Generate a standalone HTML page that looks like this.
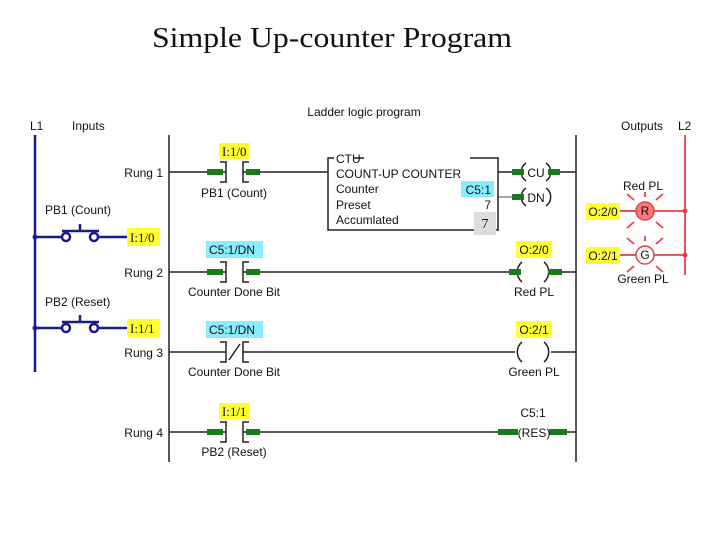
<!DOCTYPE html><html><head><style>body{margin:0;background:#fff}svg{display:block}text{font-family:"Liberation Sans",sans-serif;font-size:12px;fill:#111}</style></head><body>
<svg width="720" height="540" viewBox="0 0 720 540">
<text x="152" y="47" textLength="360" lengthAdjust="spacingAndGlyphs" style="font-family:'Liberation Serif',serif;font-size:29px">Simple Up-counter Program</text>
<text x="364" y="116" text-anchor="middle">Ladder logic program</text>
<text x="30" y="130">L1</text><text x="72" y="130">Inputs</text>
<text x="621" y="130">Outputs</text><text x="678" y="130">L2</text>
<g stroke="#1a1a8c" stroke-width="2.5" fill="none">
<line x1="35" y1="135" x2="35" y2="372"/>
<line x1="35" y1="237" x2="61" y2="237"/><line x1="99" y1="237" x2="127" y2="237"/>
<circle cx="66" cy="237" r="4" fill="#fff"/><circle cx="94" cy="237" r="4" fill="#fff"/>
<line x1="62" y1="231" x2="99" y2="231"/><line x1="80" y1="231" x2="80" y2="224"/>
<line x1="35" y1="328" x2="61" y2="328"/><line x1="99" y1="328" x2="127" y2="328"/>
<circle cx="66" cy="328" r="4" fill="#fff"/><circle cx="94" cy="328" r="4" fill="#fff"/>
<line x1="62" y1="322" x2="99" y2="322"/><line x1="80" y1="322" x2="80" y2="315"/>
</g>
<circle cx="35" cy="237" r="2.5" fill="#1a1a8c"/><circle cx="35" cy="328" r="2.5" fill="#1a1a8c"/>
<text x="45" y="214">PB1 (Count)</text><text x="45" y="306">PB2 (Reset)</text>
<rect x="127" y="228" width="33" height="18" fill="#ffff33"/><text x="130" y="242" style="font-family:'Liberation Serif',serif;font-size:13px">I:1/0</text>
<rect x="127" y="319" width="33" height="18" fill="#ffff33"/><text x="130" y="333" style="font-family:'Liberation Serif',serif;font-size:13px">I:1/1</text>
<g stroke="#222" stroke-width="1.5" fill="none">
<line x1="169" y1="135" x2="169" y2="462"/><line x1="576" y1="135" x2="576" y2="462"/>
<line x1="169" y1="172" x2="226" y2="172"/><line x1="243" y1="172" x2="328" y2="172"/>
<line x1="169" y1="272" x2="226" y2="272"/><line x1="243" y1="272" x2="515" y2="272"/><line x1="551" y1="272" x2="576" y2="272"/>
<line x1="169" y1="352" x2="226" y2="352"/><line x1="243" y1="352" x2="515" y2="352"/><line x1="551" y1="352" x2="576" y2="352"/>
<line x1="169" y1="432" x2="226" y2="432"/><line x1="243" y1="432" x2="515" y2="432"/><line x1="551" y1="432" x2="576" y2="432"/>
<line x1="498" y1="172" x2="520" y2="172"/><line x1="552" y1="172" x2="576" y2="172"/>
<line x1="498" y1="197" x2="520" y2="197" stroke="#888"/>
<path d="M220 162h6v20h-6M249 162h-6v20h6"/><path d="M220 262h6v20h-6M249 262h-6v20h6"/>
<path d="M220 342h6v20h-6M249 342h-6v20h6M229 360l11-16"/><path d="M220 422h6v20h-6M249 422h-6v20h6"/>
<path d="M334 158h-6v72h170v-72h-28M354 158h10"/>
<path d="M526 163a11 11 0 0 0 0 18M546 163a11 11 0 0 1 0 18M526 188a11 11 0 0 0 0 18M546 188a11 11 0 0 1 0 18"/>
<path d="M522 262a13 13 0 0 0 0 20M544 262a13 13 0 0 1 0 20M522 342a13 13 0 0 0 0 20M544 342a13 13 0 0 1 0 20"/>
</g>
<g fill="#1a7a1a">
<rect x="207" y="169" width="16" height="6"/><rect x="246" y="169" width="14" height="6"/>
<rect x="207" y="269" width="16" height="6"/><rect x="246" y="269" width="14" height="6"/>
<rect x="207" y="429" width="16" height="6"/><rect x="246" y="429" width="14" height="6"/>
<rect x="512" y="169" width="12" height="6"/><rect x="548" y="169" width="12" height="6"/>
<rect x="512" y="194" width="12" height="6"/>
<rect x="509" y="269" width="12" height="6"/><rect x="548" y="269" width="14" height="6"/>
<rect x="498" y="429" width="20" height="6"/><rect x="549" y="429" width="18" height="6"/>
</g>
<text x="163" y="177" text-anchor="end">Rung 1</text><text x="163" y="277" text-anchor="end">Rung 2</text>
<text x="163" y="357" text-anchor="end">Rung 3</text><text x="163" y="437" text-anchor="end">Rung 4</text>
<rect x="219" y="143" width="31" height="16" fill="#ffff33"/><text x="222" y="156" style="font-family:'Liberation Serif',serif;font-size:13px">I:1/0</text>
<rect x="219" y="403" width="31" height="16" fill="#ffff33"/><text x="222" y="416" style="font-family:'Liberation Serif',serif;font-size:13px">I:1/1</text>
<rect x="206" y="241" width="57" height="17" fill="#88eeff"/><text x="209" y="254">C5:1/DN</text>
<rect x="206" y="321" width="57" height="17" fill="#88eeff"/><text x="209" y="334">C5:1/DN</text>
<text x="234" y="197" text-anchor="middle">PB1 (Count)</text>
<text x="234" y="296" text-anchor="middle">Counter Done Bit</text>
<text x="234" y="376" text-anchor="middle">Counter Done Bit</text>
<text x="234" y="456" text-anchor="middle">PB2 (Reset)</text>
<text x="336" y="163">CTU</text><text x="336" y="178">COUNT-UP COUNTER</text>
<text x="336" y="193">Counter</text><text x="336" y="209">Preset</text><text x="336" y="224">Accumlated</text>
<rect x="461" y="181" width="33" height="16" fill="#88eeff"/><text x="491" y="194" text-anchor="end">C5:1</text>
<text x="491" y="209" text-anchor="end">7</text>
<rect x="474" y="212" width="22" height="23" fill="#ddd"/><text x="485" y="228" text-anchor="middle" style="font-family:'Liberation Serif',serif;font-size:14px">7</text>
<text x="536" y="177" text-anchor="middle">CU</text><text x="536" y="202" text-anchor="middle">DN</text>
<rect x="516" y="241" width="36" height="17" fill="#ffff33"/><text x="534" y="254" text-anchor="middle">O:2/0</text>
<rect x="516" y="321" width="36" height="17" fill="#ffff33"/><text x="534" y="334" text-anchor="middle">O:2/1</text>
<text x="534" y="296" text-anchor="middle">Red PL</text><text x="534" y="376" text-anchor="middle">Green PL</text>
<text x="533" y="417" text-anchor="middle">C5:1</text><text x="534" y="437" text-anchor="middle">(RES)</text>
<g stroke="#e8404a" stroke-width="1.8" fill="none">
<line x1="685" y1="135" x2="685" y2="275"/>
<line x1="654" y1="211" x2="685" y2="211"/><line x1="654" y1="255" x2="685" y2="255"/>
<line x1="620" y1="211" x2="636" y2="211"/><line x1="620" y1="255" x2="636" y2="255"/>
<path d="M634 200l-7-6M656 200l7-6M634 222l-7 6M656 222l7 6M634 244l-7-6M656 244l7-6M634 266l-7 6M656 266l7 6M645 197v-5M645 241v-5"/>
</g>
<circle cx="685" cy="211" r="2.5" fill="#e8404a"/><circle cx="685" cy="255" r="2.5" fill="#e8404a"/>
<circle cx="645" cy="211" r="9" fill="#f77" stroke="#e8404a" stroke-width="1.5"/><text x="645" y="215" text-anchor="middle">R</text>
<circle cx="645" cy="255" r="9" fill="#fff" stroke="#e8404a" stroke-width="1.5"/><text x="645" y="259" text-anchor="middle">G</text>
<rect x="586" y="203" width="34" height="17" fill="#ffff33"/><text x="603" y="216" text-anchor="middle">O:2/0</text>
<rect x="586" y="247" width="34" height="17" fill="#ffff33"/><text x="603" y="260" text-anchor="middle">O:2/1</text>
<text x="643" y="190" text-anchor="middle">Red PL</text><text x="643" y="283" text-anchor="middle">Green PL</text>
</svg></body></html>
